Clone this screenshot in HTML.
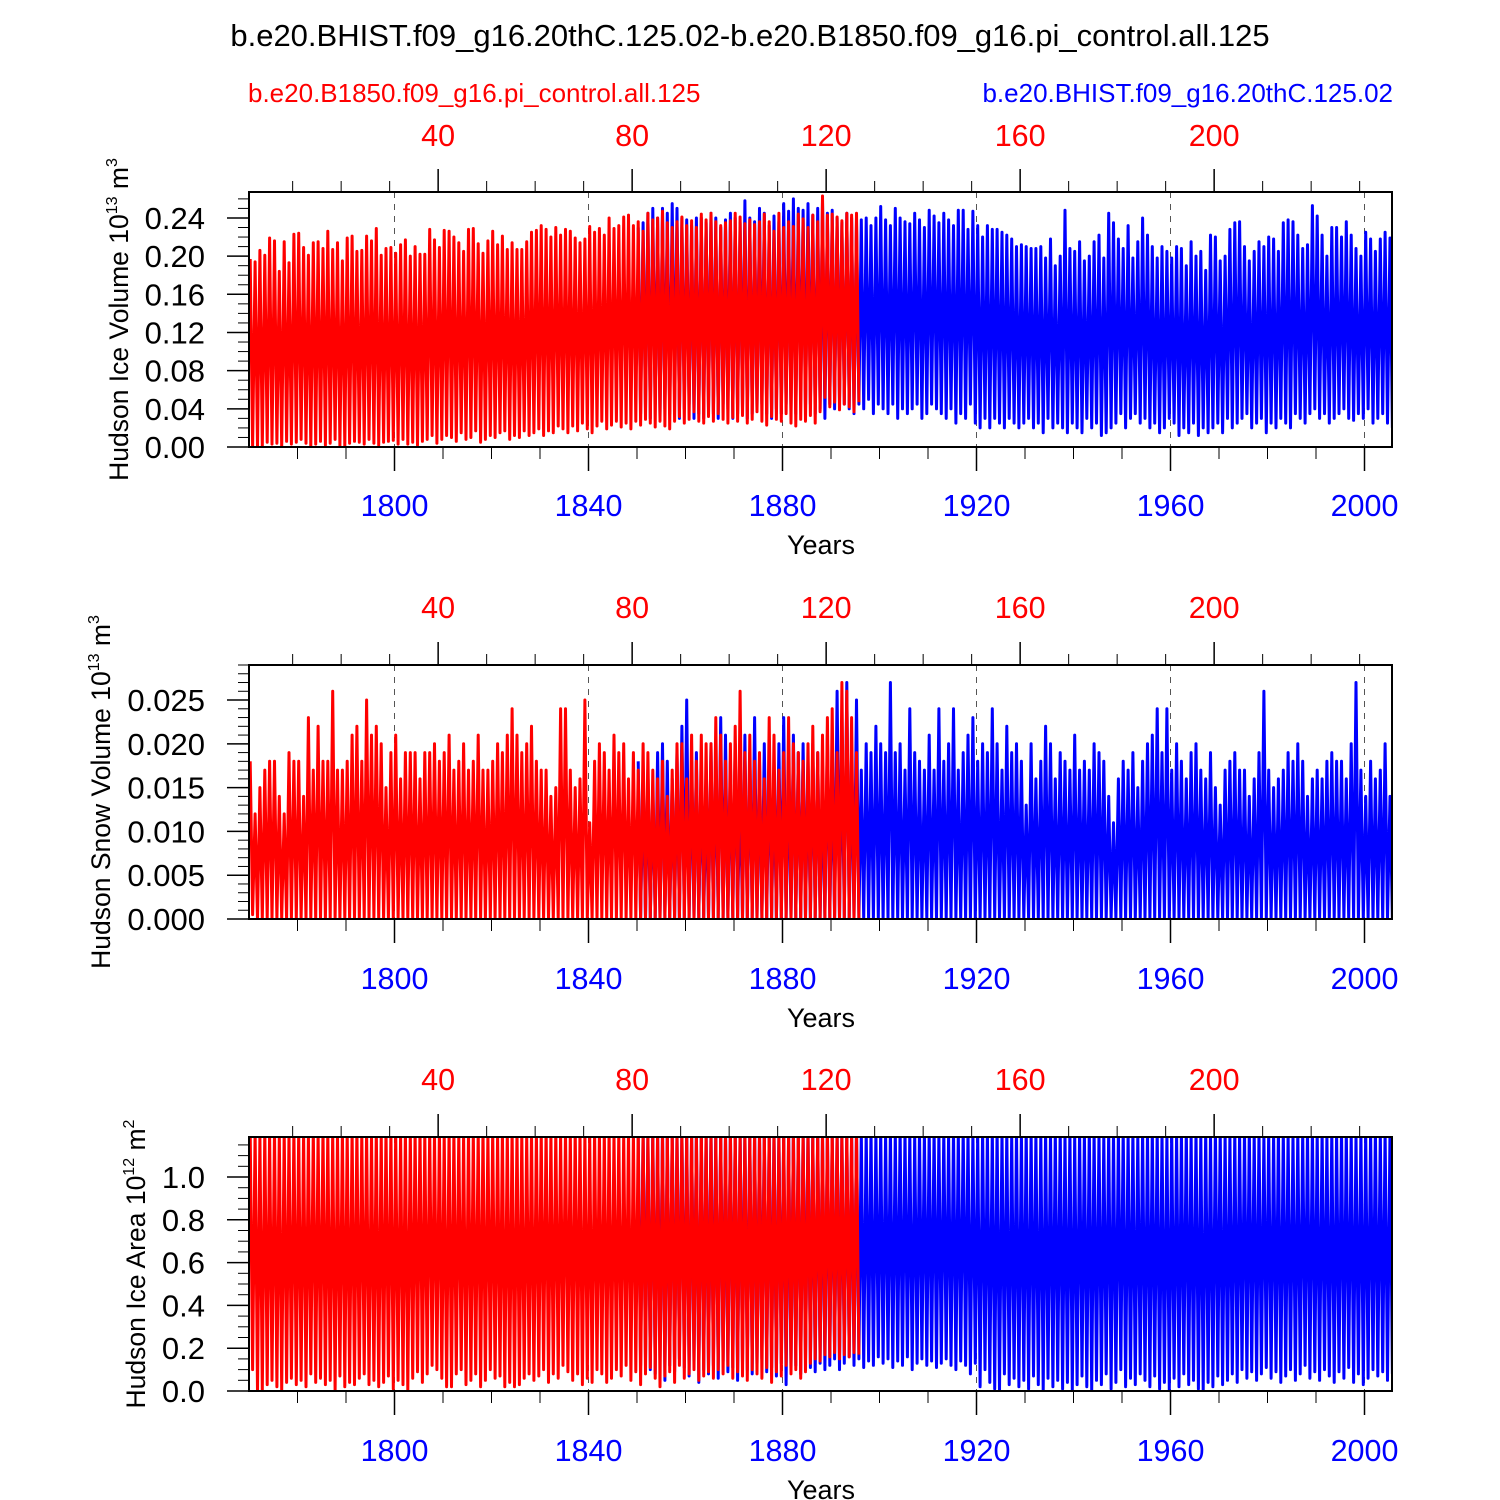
<!DOCTYPE html>
<html><head><meta charset="utf-8"><style>
html,body{margin:0;padding:0;background:#fff;}
svg{display:block;font-family:"Liberation Sans",Arial,sans-serif;}
</style></head><body>
<svg id="chart" width="1500" height="1500" viewBox="0 0 1500 1500" xmlns="http://www.w3.org/2000/svg">
<text x="750" y="46" font-size="31" text-anchor="middle">b.e20.BHIST.f09_g16.20thC.125.02-b.e20.B1850.f09_g16.pi_control.all.125</text>
<text x="248" y="102" font-size="26" fill="#ff0000">b.e20.B1850.f09_g16.pi_control.all.125</text>
<text x="1393" y="102" font-size="26" fill="#0000ff" text-anchor="end">b.e20.BHIST.f09_g16.20thC.125.02</text>
<g id="panels"></g>
</svg>
<script>
// ---- data: annual maxima / minima (years) ----
const redStartYear = 1770;   // control run, model year 1 plotted at 1770
const blueStartYear = 1850;  // historical run
const iceRedMax = [0.197,0.194,0.206,0.201,0.219,0.216,0.184,0.215,0.193,0.223,0.224,0.209,0.201,0.214,0.215,0.208,0.226,0.207,0.214,0.195,0.219,0.221,0.205,0.206,0.221,0.216,0.229,0.201,0.208,0.209,0.203,0.212,0.217,0.200,0.210,0.202,0.202,0.228,0.217,0.209,0.227,0.226,0.220,0.214,0.205,0.228,0.229,0.213,0.203,0.216,0.226,0.212,0.221,0.207,0.214,0.207,0.207,0.215,0.225,0.227,0.232,0.228,0.220,0.230,0.222,0.228,0.226,0.219,0.214,0.218,0.231,0.225,0.229,0.222,0.240,0.229,0.232,0.241,0.243,0.232,0.236,0.226,0.245,0.238,0.240,0.247,0.235,0.230,0.236,0.241,0.232,0.237,0.230,0.244,0.238,0.245,0.236,0.232,0.235,0.237,0.245,0.241,0.234,0.238,0.233,0.236,0.244,0.236,0.226,0.245,0.230,0.236,0.231,0.244,0.239,0.230,0.243,0.236,0.263,0.243,0.244,0.241,0.237,0.245,0.243,0.245];
const iceRedMin = [0.000,0.000,0.000,0.005,0.003,0.004,0.000,0.006,0.003,0.005,0.008,0.004,0.000,0.003,0.006,0.002,0.004,0.008,0.001,0.000,0.004,0.006,0.005,0.003,0.008,0.004,0.002,0.005,0.006,0.007,0.003,0.008,0.003,0.005,0.002,0.006,0.008,0.012,0.004,0.008,0.012,0.010,0.006,0.015,0.008,0.010,0.017,0.005,0.008,0.012,0.010,0.015,0.017,0.008,0.012,0.010,0.017,0.012,0.015,0.019,0.012,0.017,0.015,0.022,0.019,0.015,0.022,0.017,0.025,0.019,0.015,0.022,0.027,0.019,0.023,0.027,0.021,0.025,0.019,0.027,0.023,0.029,0.025,0.021,0.027,0.022,0.019,0.027,0.032,0.025,0.029,0.037,0.027,0.025,0.032,0.027,0.035,0.029,0.025,0.031,0.027,0.033,0.025,0.029,0.037,0.027,0.023,0.032,0.029,0.027,0.035,0.025,0.022,0.029,0.027,0.033,0.025,0.037,0.052,0.042,0.047,0.039,0.045,0.042,0.037,0.047];
const iceBlueMax = [0.230,0.235,0.245,0.250,0.240,0.250,0.245,0.255,0.250,0.240,0.238,0.232,0.240,0.240,0.235,0.245,0.240,0.230,0.238,0.245,0.240,0.235,0.258,0.240,0.236,0.250,0.245,0.232,0.242,0.236,0.255,0.247,0.260,0.250,0.248,0.255,0.243,0.250,0.258,0.245,0.248,0.240,0.235,0.245,0.240,0.235,0.238,0.240,0.232,0.240,0.252,0.238,0.232,0.250,0.240,0.236,0.234,0.245,0.238,0.230,0.248,0.242,0.235,0.245,0.238,0.232,0.248,0.248,0.228,0.247,0.232,0.220,0.232,0.228,0.228,0.225,0.222,0.218,0.210,0.212,0.210,0.208,0.208,0.210,0.198,0.218,0.190,0.200,0.248,0.208,0.205,0.215,0.195,0.200,0.215,0.222,0.198,0.245,0.235,0.218,0.208,0.232,0.198,0.215,0.240,0.222,0.210,0.198,0.210,0.205,0.198,0.210,0.208,0.190,0.215,0.200,0.205,0.185,0.222,0.220,0.195,0.200,0.228,0.235,0.236,0.210,0.195,0.205,0.215,0.210,0.220,0.218,0.205,0.235,0.238,0.236,0.222,0.208,0.212,0.253,0.242,0.222,0.200,0.230,0.230,0.220,0.236,0.222,0.208,0.200,0.225,0.218,0.205,0.218,0.225,0.219];
const iceBlueMin = [0.035,0.040,0.030,0.045,0.030,0.040,0.035,0.050,0.030,0.040,0.045,0.030,0.035,0.030,0.040,0.035,0.030,0.045,0.040,0.030,0.035,0.040,0.030,0.035,0.040,0.045,0.035,0.030,0.040,0.035,0.045,0.040,0.035,0.050,0.040,0.045,0.035,0.040,0.030,0.045,0.040,0.050,0.045,0.040,0.035,0.045,0.040,0.050,0.035,0.045,0.040,0.035,0.045,0.030,0.040,0.035,0.040,0.045,0.030,0.035,0.045,0.040,0.035,0.030,0.040,0.025,0.035,0.030,0.045,0.025,0.020,0.030,0.020,0.030,0.025,0.020,0.030,0.025,0.020,0.025,0.030,0.020,0.025,0.015,0.030,0.020,0.025,0.020,0.015,0.025,0.020,0.015,0.030,0.020,0.025,0.012,0.015,0.020,0.025,0.035,0.020,0.030,0.035,0.025,0.030,0.020,0.025,0.015,0.020,0.030,0.025,0.012,0.020,0.015,0.025,0.012,0.020,0.015,0.020,0.025,0.015,0.030,0.020,0.025,0.030,0.035,0.020,0.025,0.030,0.015,0.025,0.020,0.030,0.025,0.020,0.035,0.030,0.025,0.035,0.040,0.030,0.035,0.025,0.030,0.035,0.040,0.030,0.028,0.035,0.030,0.040,0.025,0.030,0.035,0.025,0.020,0.030,0.025];
const snowRedMax = [0.018,0.012,0.015,0.017,0.018,0.018,0.014,0.012,0.019,0.018,0.018,0.014,0.023,0.017,0.022,0.018,0.018,0.026,0.017,0.017,0.018,0.021,0.022,0.018,0.025,0.021,0.022,0.020,0.015,0.019,0.021,0.016,0.019,0.019,0.019,0.016,0.019,0.019,0.020,0.018,0.019,0.021,0.017,0.018,0.020,0.017,0.018,0.021,0.017,0.017,0.018,0.020,0.019,0.021,0.024,0.021,0.019,0.020,0.022,0.018,0.017,0.017,0.014,0.015,0.024,0.024,0.017,0.015,0.016,0.025,0.011,0.018,0.020,0.019,0.017,0.021,0.019,0.020,0.016,0.019,0.017,0.020,0.019,0.017,0.016,0.018,0.014,0.017,0.020,0.020,0.016,0.021,0.018,0.021,0.020,0.020,0.023,0.021,0.018,0.020,0.022,0.026,0.019,0.021,0.018,0.019,0.016,0.023,0.021,0.017,0.019,0.023,0.020,0.019,0.018,0.020,0.022,0.019,0.021,0.023,0.024,0.019,0.027,0.026,0.023,0.019];
const snowRedMin = [0.0005,0,0,0,0,0,0,0,0,0,0,0,0,0,0,0,0,0,0,0,0,0,0,0,0,0,0,0,0,0,0,0,0,0,0,0,0,0,0,0,0,0,0,0,0,0,0,0,0,0,0,0,0,0,0,0,0,0,0,0,0,0,0,0,0,0,0,0,0,0,0,0,0,0,0,0,0,0,0,0,0,0,0,0,0,0,0,0,0,0,0,0,0,0,0,0,0,0,0,0,0,0,0,0,0,0,0,0,0,0,0,0,0,0,0,0,0,0,0,0,0,0,0,0,0,0];
const snowBlueMax = [0.018,0.016,0.017,0.015,0.019,0.020,0.018,0.016,0.019,0.022,0.025,0.018,0.019,0.017,0.015,0.020,0.019,0.023,0.021,0.018,0.020,0.016,0.021,0.019,0.023,0.018,0.020,0.019,0.017,0.020,0.023,0.018,0.021,0.019,0.020,0.018,0.020,0.019,0.016,0.021,0.018,0.026,0.021,0.027,0.019,0.025,0.017,0.020,0.019,0.022,0.020,0.019,0.027,0.019,0.020,0.017,0.024,0.019,0.018,0.017,0.021,0.017,0.024,0.018,0.020,0.024,0.017,0.019,0.021,0.023,0.018,0.020,0.019,0.024,0.020,0.017,0.022,0.019,0.020,0.018,0.013,0.020,0.016,0.018,0.022,0.020,0.016,0.019,0.018,0.017,0.021,0.017,0.018,0.017,0.020,0.019,0.018,0.014,0.011,0.016,0.018,0.017,0.019,0.015,0.018,0.020,0.021,0.024,0.019,0.024,0.017,0.020,0.018,0.016,0.019,0.020,0.017,0.016,0.019,0.015,0.013,0.017,0.018,0.019,0.017,0.017,0.014,0.016,0.019,0.026,0.017,0.015,0.016,0.017,0.019,0.018,0.020,0.018,0.014,0.016,0.017,0.016,0.018,0.019,0.018,0.018,0.016,0.020,0.027,0.017,0.014,0.018,0.016,0.017,0.020,0.014,0.017,0.016];
const snowBlueMin = [0,0,0,0,0,0,0,0,0,0,0,0,0,0,0,0,0,0,0,0,0,0,0,0,0,0,0,0,0,0,0,0,0,0,0,0,0,0,0,0,0,0,0,0,0,0,0,0,0,0,0,0,0,0,0,0,0,0,0,0,0,0,0,0,0,0,0,0,0,0,0,0,0,0,0,0,0,0,0,0,0,0,0,0,0,0,0,0,0,0,0,0,0,0,0,0,0,0,0,0,0,0,0,0,0,0,0,0,0,0,0,0,0,0,0,0,0,0,0,0,0,0,0,0,0,0,0,0,0,0,0,0,0,0,0,0,0,0,0,0,0,0,0,0,0,0,0,0,0,0,0,0,0,0,0,0,0,0];
const areaRedMax = [1.21,1.22,1.20,1.23,1.21,1.22,1.20,1.22,1.21,1.23,1.22,1.21,1.20,1.22,1.21,1.23,1.22,1.21,1.20,1.22,1.21,1.22,1.23,1.21,1.22,1.20,1.22,1.21,1.23,1.22,1.21,1.20,1.22,1.21,1.22,1.23,1.21,1.22,1.20,1.22,1.21,1.23,1.22,1.21,1.20,1.22,1.21,1.22,1.23,1.21,1.22,1.20,1.22,1.21,1.23,1.22,1.21,1.20,1.22,1.21,1.22,1.23,1.21,1.22,1.20,1.22,1.21,1.23,1.22,1.21,1.20,1.22,1.21,1.22,1.23,1.21,1.22,1.20,1.22,1.21,1.23,1.22,1.21,1.20,1.22,1.21,1.22,1.23,1.21,1.22,1.20,1.22,1.21,1.23,1.22,1.21,1.20,1.22,1.21,1.22,1.23,1.21,1.22,1.20,1.22,1.21,1.23,1.22,1.21,1.20,1.22,1.21,1.22,1.23,1.21,1.22,1.20,1.22,1.21,1.23,1.22,1.21,1.20,1.22,1.21,1.22];
const areaRedMin = [0.10,0.00,0.00,0.03,0.05,0.02,0.00,0.04,0.06,0.03,0.05,0.02,0.08,0.04,0.06,0.03,0.05,0.00,0.07,0.02,0.04,0.03,0.06,0.08,0.03,0.05,0.02,0.04,0.07,0.01,0.05,0.03,0.00,0.06,0.09,0.04,0.08,0.12,0.10,0.06,0.02,0.02,0.08,0.10,0.03,0.05,0.08,0.02,0.05,0.10,0.06,0.07,0.02,0.04,0.02,0.03,0.06,0.08,0.05,0.07,0.10,0.04,0.08,0.06,0.12,0.09,0.05,0.08,0.03,0.06,0.04,0.10,0.08,0.04,0.06,0.10,0.07,0.12,0.05,0.09,0.03,0.08,0.11,0.06,0.02,0.07,0.09,0.04,0.12,0.06,0.08,0.10,0.05,0.07,0.09,0.06,0.10,0.08,0.12,0.06,0.09,0.07,0.05,0.10,0.08,0.06,0.11,0.04,0.09,0.07,0.12,0.08,0.10,0.06,0.09,0.13,0.15,0.14,0.17,0.16,0.18,0.15,0.17,0.16,0.18,0.17];
const areaBlueMax = [1.21,1.22,1.20,1.23,1.21,1.22,1.20,1.22,1.21,1.23,1.22,1.21,1.20,1.22,1.21,1.23,1.22,1.21,1.20,1.22,1.21,1.22,1.23,1.21,1.22,1.20,1.22,1.21,1.23,1.22,1.21,1.20,1.22,1.21,1.22,1.23,1.21,1.22,1.20,1.22,1.21,1.23,1.22,1.21,1.20,1.22,1.21,1.22,1.23,1.21,1.22,1.20,1.22,1.21,1.23,1.22,1.21,1.20,1.22,1.21,1.22,1.23,1.21,1.22,1.20,1.22,1.21,1.23,1.22,1.21,1.20,1.22,1.21,1.22,1.23,1.21,1.22,1.20,1.22,1.21,1.23,1.22,1.21,1.20,1.22,1.21,1.22,1.23,1.21,1.22,1.20,1.22,1.21,1.23,1.22,1.21,1.20,1.22,1.21,1.22,1.23,1.21,1.22,1.20,1.22,1.21,1.23,1.22,1.21,1.20,1.22,1.21,1.22,1.23,1.21,1.22,1.20,1.22,1.21,1.23,1.22,1.21,1.20,1.22,1.21,1.22,1.23,1.21,1.22,1.20,1.22,1.21,1.23,1.22,1.21,1.20,1.22,1.21,1.22,1.23,1.21,1.22,1.20,1.22,1.21,1.23,1.22,1.21,1.20,1.22,1.21,1.22,1.23,1.21,1.22,1.21];
const areaBlueMin = [0.12,0.15,0.10,0.08,0.14,0.05,0.12,0.09,0.15,0.11,0.07,0.13,0.04,0.10,0.08,0.12,0.06,0.14,0.09,0.11,0.05,0.13,0.10,0.08,0.12,0.15,0.09,0.11,0.07,0.13,0.03,0.10,0.12,0.08,0.14,0.11,0.09,0.13,0.10,0.12,0.15,0.10,0.13,0.16,0.12,0.15,0.11,0.14,0.12,0.16,0.13,0.15,0.11,0.14,0.12,0.16,0.10,0.13,0.15,0.12,0.14,0.11,0.13,0.15,0.12,0.10,0.14,0.12,0.08,0.13,0.02,0.10,0.04,0.01,0.00,0.08,0.03,0.06,0.02,0.05,0.01,0.07,0.03,0.00,0.06,0.02,0.05,0.01,0.04,0.00,0.03,0.07,0.02,0.00,0.05,0.03,0.08,0.01,0.04,0.10,0.02,0.06,0.03,0.08,0.05,0.02,0.07,0.01,0.04,0.00,0.06,0.02,0.08,0.03,0.05,0.01,0.00,0.04,0.02,0.07,0.03,0.05,0.08,0.04,0.10,0.06,0.09,0.05,0.08,0.11,0.06,0.09,0.04,0.07,0.10,0.05,0.08,0.12,0.06,0.09,0.05,0.10,0.07,0.04,0.09,0.06,0.11,0.04,0.08,0.03,0.06,0.10,0.07,0.09,0.05,0.08,0.06,0.07];
const yearTickLabels = [1800,1840,1880,1920,1960,2000];
const modelTickLabels = [40,80,120,160,200];

// ---- layout ----
const X0 = 249, X1 = 1392, YR0 = 1770, YR1 = 2005.67;
const xYear = yr => X0 + (yr - YR0) * (X1 - X0) / (YR1 - YR0);
const xModel = t => xYear(redStartYear + t - 1);
const panels = [
  {key:'ice-volume', top:192, bot:447, ymax:0.2672, major:0.04, minor:0.01, dec:2, labelsTop:135, labelsBot:505, yearsY:545, titleX:118, title:['Hudson Ice Volume 10','13',' m','3'],
   rMax:iceRedMax, rMin:iceRedMin, bMax:iceBlueMax, bMin:iceBlueMin},
  {key:'snow-volume', top:665, bot:919, ymax:0.0290, major:0.005, minor:0.001, dec:3, labelsTop:607, labelsBot:978, yearsY:1018, titleX:100, title:['Hudson Snow Volume 10','13',' m','3'],
   rMax:snowRedMax, rMin:snowRedMin, bMax:snowBlueMax, bMin:snowBlueMin},
  {key:'ice-area', top:1137, bot:1391, ymax:1.187, major:0.2, minor:0.05, dec:1, labelsTop:1079, labelsBot:1450, yearsY:1490, titleX:135, title:['Hudson Ice Area 10','12',' m','2'],
   rMax:areaRedMax, rMin:areaRedMin, bMax:areaBlueMax, bMin:areaBlueMin}
];
const NS = 'http://www.w3.org/2000/svg';
const root = document.getElementById('panels');
function mk(tag, attrs, parent){
  const e = document.createElementNS(NS, tag);
  for (const k in attrs) e.setAttribute(k, attrs[k]);
  parent.appendChild(e); return e;
}
panels.forEach((p, pi) => {
  const g = mk('g', {}, root);
  
  
  const yv = v => p.bot - v * (p.bot - p.top) / p.ymax;
  const cp = mk('clipPath', {id:'clip'+pi}, g);
  mk('rect', {x:X0, y:p.top, width:X1-X0, height:p.bot-p.top}, cp);
  yearTickLabels.forEach(yr => {
    const l = mk('line', {x1:xYear(yr), x2:xYear(yr), y1:p.top, y2:p.bot, stroke:'#555', 'stroke-width':1, 'stroke-dasharray':'6,6'}, g);
    
    
  });
  function series(maxArr, minArr, start, color, name){
    let d = '';
    for (let i = 0; i < maxArr.length; i++) {
      const yr = start + i;
      d += (i ? 'L' : 'M') + xYear(yr + 0.25).toFixed(1) + ',' + yv(maxArr[i]).toFixed(1);
      d += 'L' + xYear(yr + 0.75).toFixed(1) + ',' + yv(minArr[i % minArr.length]).toFixed(1);
    }
    const path = mk('path', {d:d, fill:'none', stroke:color, 'stroke-width':3, 'stroke-linejoin':'round', 'clip-path':'url(#clip'+pi+')'}, g);
    
    
  }
  series(p.bMax, p.bMin, blueStartYear, '#0000ff', p.key + '-historical-line');
  series(p.rMax, p.rMin, redStartYear, '#ff0000', p.key + '-control-line');
  const fr = mk('rect', {x:X0, y:p.top, width:X1-X0, height:p.bot-p.top, fill:'none', stroke:'#000', 'stroke-width':2}, g);
  
  
  const nMinor = Math.floor(p.ymax / p.minor + 1e-6);
  for (let k = 0; k <= nMinor; k++) {
    const v = k * p.minor;
    const isMaj = Math.abs(v / p.major - Math.round(v / p.major)) < 1e-6;
    mk('line', {x1:X0 - (isMaj ? 22 : 11), x2:X0, y1:yv(v), y2:yv(v), stroke:'#000', 'stroke-width':isMaj ? 1.5 : 1}, g);
    if (isMaj) {
      const t = mk('text', {x:205, y:yv(v) + 11, 'font-size':31, 'text-anchor':'end'}, g);
      t.textContent = v.toFixed(p.dec);
      
      
    }
  }
  for (let yr = 1780; yr <= 2000; yr += 10) {
    const isMaj = (yr - 1800) % 40 === 0 && yr >= 1800;
    mk('line', {x1:xYear(yr), x2:xYear(yr), y1:p.bot, y2:p.bot + (isMaj ? 24 : 12), stroke:'#000', 'stroke-width':isMaj ? 1.5 : 1}, g);
  }
  yearTickLabels.forEach(yr => {
    const t = mk('text', {x:xYear(yr), y:p.labelsBot + 11, 'font-size':30.5, 'text-anchor':'middle', fill:'#0000ff'}, g);
    t.textContent = yr;
    
    
  });
  for (let m = 10; m <= 230; m += 10) {
    const isMaj = m % 40 === 0;
    mk('line', {x1:xModel(m), x2:xModel(m), y1:p.top, y2:p.top - (isMaj ? 23 : 11), stroke:'#000', 'stroke-width':isMaj ? 1.5 : 1}, g);
  }
  modelTickLabels.forEach(m => {
    const t = mk('text', {x:xModel(m), y:p.labelsTop + 11, 'font-size':30.5, 'text-anchor':'middle', fill:'#ff0000'}, g);
    t.textContent = m;
    
    
  });
  const yt = mk('text', {x:821, y:p.yearsY + 9, 'font-size':27, 'text-anchor':'middle'}, g);
  yt.textContent = 'Years';
  
  
  const cy = (p.top + p.bot) / 2;
  const at = mk('text', {x:0, y:0, 'font-size':26.5, 'text-anchor':'middle', transform:'translate(' + (p.titleX + 10) + ',' + cy + ') rotate(-90)'}, g);
  
  
  const s1 = mk('tspan', {}, at); s1.textContent = p.title[0];
  const s2 = mk('tspan', {'font-size':16, dy:-11}, at); s2.textContent = p.title[1];
  const s3 = mk('tspan', {dy:11}, at); s3.textContent = p.title[2];
  const s4 = mk('tspan', {'font-size':16, dy:-11}, at); s4.textContent = p.title[3];
});
</script>
</body></html>
